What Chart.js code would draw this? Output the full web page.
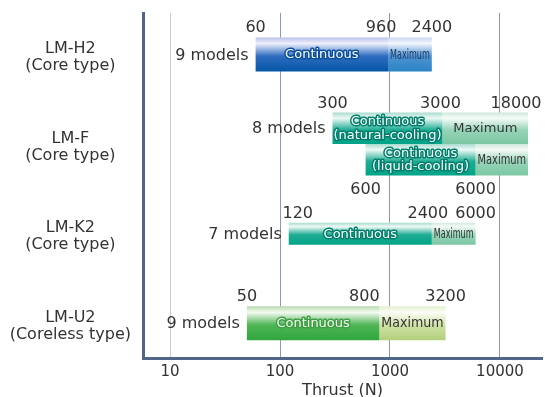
<!DOCTYPE html>
<html>
<head>
<meta charset="utf-8">
<title>Linear motor thrust ranges</title>
<script src="https://cdn.jsdelivr.net/npm/chart.js@4.4.1/dist/chart.umd.min.js"></script>
<style>
  html, body { margin: 0; background: #fff; }
  #wrap { width: 545px; height: 397px; }
</style>
</head>
<body>
<div id="wrap"><canvas id="thrustChart"></canvas></div>
<script>
// Series data
const series = [['LM-H2', '(Core type)'], ['LM-F', '(Core type)'], ['LM-K2', '(Core type)'], ['LM-U2', '(Coreless type)']];
const modelCounts = ['9 models', '8 models', '7 models', '9 models'];
const contFrom = [60, 300, 120, 50];
const contTo = [960, 3000, 2400, 800];
const maxTo = [2400, 18000, 6000, 3200];
// LM-F liquid-cooled range
const liquidFrom = [null, 600, null, null];
const liquidTo = [null, 6000, null, null];
const liquidMax = [null, 18000, null, null];
const contText = [['Continuous'], ['Continuous', '(natural-cooling)'], ['Continuous'], ['Continuous']];
const liquidText = ['Continuous', '(liquid-cooling)'];
const xTicks = [10, 100, 1000, 10000];

// Styles
const FONT = '"DejaVu Sans", sans-serif';
const rowColor = ['blue', 'teal', 'teal', 'green'];
const rowThickness = [34, 32, 22, 34];
const numberShift = [[0, -7, 0], [0, -2, -12], [9, -4, 0], [0, -15, 0]];
const palette = {
    blue:  { cont: ['#b9bfe9', '#eef0fc', '#2f6cc0', '#0457a5'], max: ['#c9d6f0', '#f2f6fd', '#4f92d0', '#2a84c6'],
             outline: '#0b4f9c', maxInk: '#1d3a66' },
    teal:  { cont: ['#a9dccf', '#eef9f5', '#1fac93', '#00a488'], max: ['#cfeadd', '#f6fbf8', '#96d4b8', '#7cc6a3'],
             outline: '#00806c', maxInk: '#333' },
    green: { cont: ['#b7dcae', '#f3faf0', '#4fb555', '#2fa63d'], max: ['#e3efcf', '#fbfdf6', '#cfe2a6', '#b2cf7b'],
             outline: '#3f9f44', maxInk: '#333' }
};
const stopsAt = [0, 0.18, 0.55, 1];

function barFill(colors) {
    return function (c) {
        const el = c.element;
        if (!el || !isFinite(el.y) || !el.height) return colors[3];
        const g = c.chart.ctx.createLinearGradient(0, el.y - el.height / 2, 0, el.y + el.height / 2);
        colors.forEach((col, k) => g.addColorStop(stopsAt[k], col));
        return g;
    };
}

const datasets = [];
series.forEach((s, i) => {
    const pal = palette[rowColor[i]];
    const common = { stack: 'r' + i, maxBarThickness: rowThickness[i], row: i };
    datasets.push({ ...common, role: 'cont', label: s[0] + ' continuous',
        data: [{ y: i, x: [contFrom[i], contTo[i]] }], backgroundColor: barFill(pal.cont) });
    datasets.push({ ...common, role: 'max', label: s[0] + ' maximum',
        data: [{ y: i, x: [contTo[i], maxTo[i]] }], backgroundColor: barFill(pal.max) });
    if (liquidFrom[i] != null) {
        const liq = { stack: 'r' + i + 'liq', maxBarThickness: rowThickness[i], row: i };
        datasets.push({ ...liq, role: 'liqCont', label: s[0] + ' liquid continuous',
            data: [{ y: i, x: [liquidFrom[i], liquidTo[i]] }], backgroundColor: barFill(pal.cont) });
        datasets.push({ ...liq, role: 'liqMax', label: s[0] + ' liquid maximum',
            data: [{ y: i, x: [liquidTo[i], liquidMax[i]] }], backgroundColor: barFill(pal.max) });
    }
});

function segText(ctx, lines, el, fill, stroke, squeeze) {
    const left = Math.min(el.x, el.base), right = Math.max(el.x, el.base);
    const cx = (left + right) / 2;
    const lh = 13.5;
    lines.forEach((t, k) => {
        const cy = el.y + 0.5 + (k - (lines.length - 1) / 2) * lh;
        ctx.save();
        ctx.translate(cx, cy);
        const w = ctx.measureText(t).width;
        if (squeeze && w > right - left - 4) ctx.scale((right - left - 4) / w, 1.08);
        if (stroke) {
            ctx.lineJoin = 'round';
            ctx.lineWidth = 3;
            ctx.strokeStyle = stroke;
            ctx.strokeText(t, 0, 0);
        }
        ctx.fillStyle = fill;
        ctx.fillText(t, 0, 0);
        ctx.restore();
    });
}

const barLabels = {
    id: 'barLabels',
    afterDatasetsDraw(chart) {
        const { ctx, scales: { x } } = chart;
        const barOf = (row, role) => {
            const idx = chart.data.datasets.findIndex(d => d.row === row && d.role === role);
            return idx < 0 ? null : chart.getDatasetMeta(idx).data[0];
        };
        ctx.save();
        series.forEach((s, i) => {
            const pal = palette[rowColor[i]];
            const cont = barOf(i, 'cont'), max = barOf(i, 'max');
            const top = cont.y - cont.height / 2;

            ctx.font = '16px ' + FONT;
            ctx.fillStyle = '#333';
            ctx.textAlign = 'center';
            ctx.textBaseline = 'alphabetic';
            [contFrom[i], contTo[i], maxTo[i]].forEach((v, k) => {
                ctx.fillText(String(v), x.getPixelForValue(v) + numberShift[i][k], top - 5);
            });

            ctx.textAlign = 'right';
            ctx.textBaseline = 'middle';
            ctx.fillText(modelCounts[i], x.getPixelForValue(contFrom[i]) - 7, cont.y + 1);

            ctx.textAlign = 'center';
            ctx.font = '13px ' + FONT;
            const contFill = rowColor[i] === 'green' ? '#f2fbef' : '#fff';
            segText(ctx, contText[i], cont, contFill, pal.outline, false);
            segText(ctx, ['Maximum'], max, pal.maxInk, null, true);

            const lc = barOf(i, 'liqCont'), lm = barOf(i, 'liqMax');
            if (lc) {
                segText(ctx, liquidText, lc, '#fff', pal.outline, false);
                segText(ctx, ['Maximum'], lm, pal.maxInk, null, true);
                ctx.font = '16px ' + FONT;
                ctx.fillStyle = '#333';
                ctx.textBaseline = 'alphabetic';
                const bottom = lc.y + lc.height / 2;
                [liquidFrom[i], liquidTo[i]].forEach(v => {
                    ctx.fillText(String(v), x.getPixelForValue(v), bottom + 18);
                });
            }
        });
        ctx.restore();
    }
};

const chart = new Chart(document.getElementById('thrustChart'), {
    type: 'bar',
    data: { datasets: datasets },
    plugins: [barLabels],
    options: {
        indexAxis: 'y',
        responsive: true,
        maintainAspectRatio: false,
        animation: false,
        skipNull: true,
        categoryPercentage: 0.703,
        barPercentage: 1,
        layout: { padding: { top: 13, right: 3, left: 0, bottom: 0 } },
        plugins: { legend: { display: false }, tooltip: { enabled: false } },
        scales: {
            x: {
                type: 'logarithmic',
                min: 5.68,
                max: 24100,
                beginAtZero: false,
                stacked: false,
                afterBuildTicks: s => { s.ticks = xTicks.map(v => ({ value: v })); },
                afterFit: s => { s.height = 39; s.paddingLeft = 0; s.paddingRight = 0; },
                grid: {
                    color: c => (c.tick && c.tick.value === 10 ? '#c3cbdc' : '#8c99b4'),
                    lineWidth: 1,
                    drawTicks: false
                },
                border: { color: '#4f6686', width: 3 },
                ticks: {
                    padding: 5,
                    color: '#333',
                    font: { family: FONT, size: 15 },
                    callback: v => String(v)
                },
                title: {
                    display: true,
                    text: 'Thrust (N)',
                    color: '#333',
                    font: { family: FONT, size: 16 },
                    padding: { top: 0, bottom: -3 }
                }
            },
            y: {
                type: 'linear',
                reverse: true,
                offset: false,
                min: -0.462,
                max: 3.387,
                afterBuildTicks: s => { s.ticks = series.map((_, i) => ({ value: i })); },
                afterFit: s => { s.width = 143; s.paddingTop = 0; s.paddingBottom = 0; },
                grid: { display: false, drawTicks: false, offset: false },
                border: { color: '#4f6686', width: 3 },
                ticks: {
                    padding: 12,
                    crossAlign: 'center',
                    labelOffset: 3,
                    color: '#333',
                    font: { family: FONT, size: 16, lineHeight: 1.05 },
                    callback: v => series[v]
                }
            }
        }
    }
});
// second pass so the bar gradients can use the laid-out bar positions
chart.update();
</script>
</body>
</html>
